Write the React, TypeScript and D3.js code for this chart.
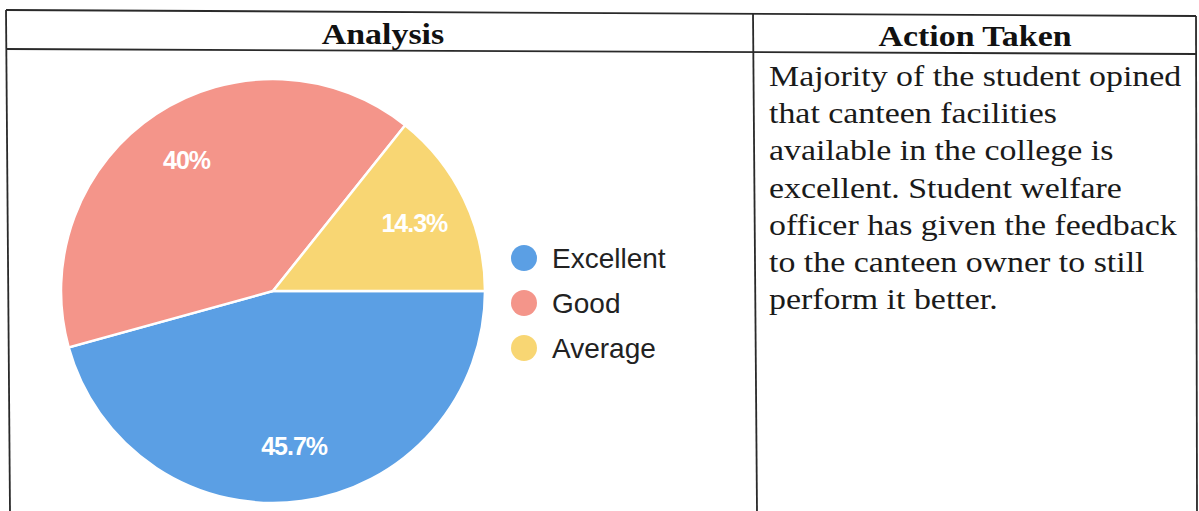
import { arc, pie, scaleOrdinal } from "d3";

// survey answers (35 students)
const categories = ["Excellent", "Good", "Average"];
const counts = [16, 14, 5];
const percentLabels = ["45.7%", "40%", "14.3%"];
const colors = ["#5b9fe4", "#f4958a", "#f8d673"];

const headers = ["Analysis", "Action Taken"];
const actionLines = [
  "Majority of the student opined",
  "that canteen facilities",
  "available in the college is",
  "excellent. Student welfare",
  "officer has given the feedback",
  "to the canteen owner to still",
  "perform it better.",
];

const W = 1199;
const H = 511;

const App = () => {
  const cx = 273;
  const cy = 291;
  const r = 212;

  const color = scaleOrdinal<string, string>().domain(categories).range(colors);

  const slices = pie<number>()
    .sort(null)
    .startAngle(Math.PI / 2)
    .endAngle(Math.PI / 2 + 2 * Math.PI)(counts);

  const slicePath = arc<any>().innerRadius(0).outerRadius(r);
  const labelArc = arc<any>().innerRadius(r * 0.74).outerRadius(r * 0.74);

  const serif = "'Liberation Serif', 'Times New Roman', serif";
  const sans = "'Liberation Sans', Arial, sans-serif";
  const sx = 1.13; // scanned text is a bit wider than plain Times

  return (
    <svg
      width={W}
      height={H}
      style={{ position: "absolute", left: 0, top: 0, background: "#fff" }}
    >
      {/* table lines */}
      <g stroke="#2a2a2a" strokeWidth={1.8} fill="none">
        <line x1={6} y1={10} x2={1196} y2={16} />
        <line x1={6} y1={49} x2={1196} y2={54} />
        <line x1={6} y1={10} x2={10} y2={H} />
        <line x1={753} y1={13} x2={757} y2={H} />
        <line x1={1196} y1={16} x2={1197} y2={H} />
      </g>

      {/* headers */}
      <g fontFamily={serif} fontWeight="bold" fontSize={30} fill="#111">
        <text transform={`translate(383,44) scale(${sx},1)`} textAnchor="middle">
          {headers[0]}
        </text>
        <text transform={`translate(975,46) scale(${sx},1)`} textAnchor="middle">
          {headers[1]}
        </text>
      </g>

      {/* pie */}
      <g transform={`translate(${cx},${cy})`}>
        {slices.map((d, i) => (
          <path
            key={categories[i]}
            d={slicePath(d) as string}
            fill={color(categories[i])}
            stroke="#fff"
            strokeWidth={2.5}
          />
        ))}
        {slices.map((d, i) => {
          const [lx, ly] = labelArc.centroid(d);
          return (
            <text
              key={percentLabels[i]}
              x={lx}
              y={ly}
              dy="0.36em"
              textAnchor="middle"
              fontFamily={sans}
              fontWeight="bold"
              fontSize={25}
              letterSpacing={-1}
              fill="#fff"
            >
              {percentLabels[i]}
            </text>
          );
        })}
      </g>

      {/* legend */}
      <g fontFamily={sans} fontSize={28} fill="#222">
        {categories.map((c, i) => (
          <g key={c} transform={`translate(524,${258 + i * 45})`}>
            <circle r={13} fill={color(c)} />
            <text x={28} dy="0.35em">
              {c}
            </text>
          </g>
        ))}
      </g>

      {/* action text */}
      <g fontFamily={serif} fontSize={30} fill="#1a1a1a">
        {actionLines.map((line, i) => (
          <text
            key={i}
            transform={`translate(769,${86 + i * 37.2}) scale(${sx},1)`}
          >
            {line}
          </text>
        ))}
      </g>
    </svg>
  );
};

export default App;
